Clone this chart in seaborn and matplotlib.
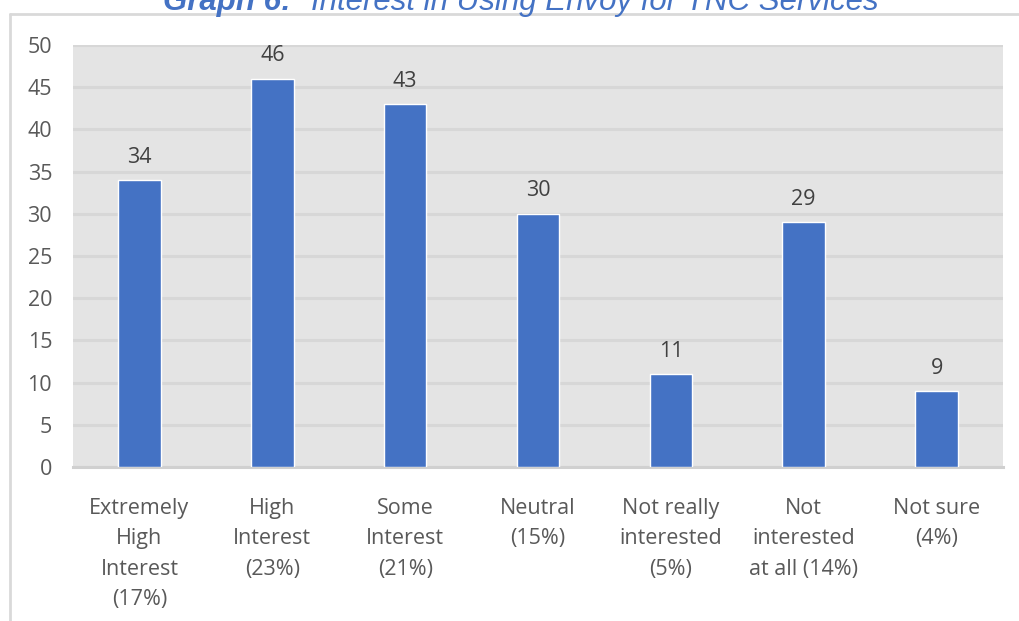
import matplotlib
matplotlib.use("Agg")
import matplotlib.pyplot as plt
from matplotlib.lines import Line2D
import seaborn as sns
import pandas as pd

# Survey responses
categories = [
    "Extremely\nHigh\nInterest\n(17%)",
    "High\nInterest\n(23%)",
    "Some\nInterest\n(21%)",
    "Neutral\n(15%)",
    "Not really\ninterested\n(5%)",
    "Not\ninterested\nat all (14%)",
    "Not sure\n(4%)",
]
counts = [34, 46, 43, 30, 11, 29, 9]
y_ticks = [0, 5, 10, 15, 20, 25, 30, 35, 40, 45, 50]
title_lead = "Graph 6:"
title_rest = "Interest in Using Envoy for TNC Services"

sns.set_theme(style="white")
plt.rcParams["font.family"] = ["Open Sans", "DejaVu Sans"]

W, H = 1020, 621
fig = plt.figure(figsize=(W / 100, H / 100), dpi=100)
fig.patch.set_facecolor("white")
ax = fig.add_axes([73 / W, 1 - 467 / H, (1003 - 73) / W, (467 - 45) / H])

df = pd.DataFrame({"category": categories, "count": counts})
sns.barplot(data=df, x="category", y="count", color="#4472C4", saturation=1,
            width=0.32, ax=ax, zorder=3)

ax.set_facecolor("#E4E4E4")
ax.set_ylim(0, 50)
ax.set_yticks(y_ticks)
ax.set_xlim(-0.5, len(categories) - 0.5)
ax.yaxis.grid(True, color="#D7D7D7", linewidth=2.2, zorder=0)
ax.set_axisbelow(True)
for side in ["top", "right", "left"]:
    ax.spines[side].set_visible(False)
ax.spines["bottom"].set_color("#D0D0D0")
ax.spines["bottom"].set_linewidth(2.2)
ax.set_xlabel("")
ax.set_ylabel("")
ax.tick_params(axis="both", length=0, labelsize=15.5, labelcolor="#595959")
ax.tick_params(axis="y", pad=15)
ax.tick_params(axis="x", pad=22)
for lbl in ax.get_xticklabels():
    lbl.set_linespacing(1.6)
    lbl.set_horizontalalignment("center")

ax.bar_label(ax.containers[0], labels=[str(v) for v in counts], padding=9,
             fontsize=15.5, color="#404040")

# Chart frame (top and left edges)
frame_kw = dict(color="#D9D9D9", linewidth=2.0, transform=fig.transFigure)
fig.add_artist(Line2D([10 / W, 1.0], [1 - 14 / H, 1 - 14 / H], **frame_kw))
fig.add_artist(Line2D([10 / W, 10 / W], [1 - 14 / H, 0.0], **frame_kw))

# Title, partly above the top edge
title_kw = dict(va="baseline", ha="left", fontsize=22.5, color="#4472C4",
                style="italic", family=["Liberation Sans", "DejaVu Sans"])
fig.text(163 / W, 1 - 10 / H, title_lead, fontweight="bold", **title_kw)
fig.text(311 / W, 1 - 10 / H, title_rest, **title_kw)

fig.savefig("out.png", dpi=100, facecolor="white")
